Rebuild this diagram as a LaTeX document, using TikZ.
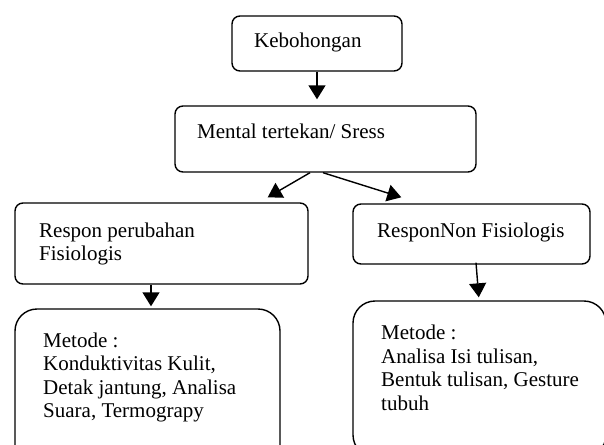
\documentclass[tikz,border=0pt]{standalone}
\usepackage{fontspec}
\setmainfont{Liberation Serif}
\usetikzlibrary{arrows.meta,calc}
\begin{document}
\begin{tikzpicture}[x=1pt,y=-1pt,
  box/.style={draw,line width=1.4pt,rounded corners=8pt,inner sep=0pt},
  bigbox/.style={draw,line width=1.4pt,rounded corners=22pt,inner sep=0pt},
  txt/.style={anchor=base west,inner sep=0pt,align=left,font=\fontsize{21}{23.5}\selectfont},
  arr/.style={line width=1.4pt,-{Triangle[length=14pt,width=17pt]}}]
\useasboundingbox (0,0) rectangle (604,444);
\clip (0,0) rectangle (604,444);
% boxes
\node[box,minimum width=170pt,minimum height=55pt] (keb) at (317,43.5) {};
\node[box,minimum width=301pt,minimum height=66pt] (mental) at (325.5,139) {};
\node[box,minimum width=293pt,minimum height=81pt] (resp1) at (161.5,243.5) {};
\node[box,minimum width=237pt,minimum height=60pt] (resp2) at (471.5,234) {};
\node[bigbox,minimum width=265pt,minimum height=160pt] (met1) at (147.5,389) {};
\node[bigbox,minimum width=253pt,minimum height=156pt] (met2) at (479.5,379) {};
% texts (base = last line)
\node[txt] (tkeb) at (254,48) {Kebohongan};
\node[txt] (tmental) at (197,138) {Mental tertekan/ Sress};
\node[txt] (tresp1) at (39,260.5) {Respon perubahan\\Fisiologis};
\node[txt] (tresp2) at (377,237) {ResponNon Fisiologis};
\node[txt] (tmet1) at (43,417.5) {Metode :\\Konduktivitas Kulit,\\Detak jantung, Analisa\\Suara, Termograpy};
\node[txt] (tmet2) at (381,410) {Metode :\\Analisa Isi tulisan,\\Bentuk tulisan, Gesture\\tubuh};
% arrows
\draw[arr,shorten >=6pt] (keb.south) -- (keb.south |- mental.north);
\draw[arr] ([xshift=-15.5pt]mental.south) -- ([xshift=-41pt,yshift=5pt]resp1.north east);
\draw[arr] ([xshift=-2.5pt]mental.south) -- ([xshift=49pt,yshift=6pt]resp2.north west);
\draw[arr,shorten >=2pt] ([xshift=-10.5pt]resp1.south) -- ([xshift=3.5pt]met1.north);
\draw[arr,shorten >=3pt] ([xshift=4.5pt,yshift=2pt]resp2.south) -- ([xshift=-0.5pt]met2.north);
\end{tikzpicture}
\end{document}
